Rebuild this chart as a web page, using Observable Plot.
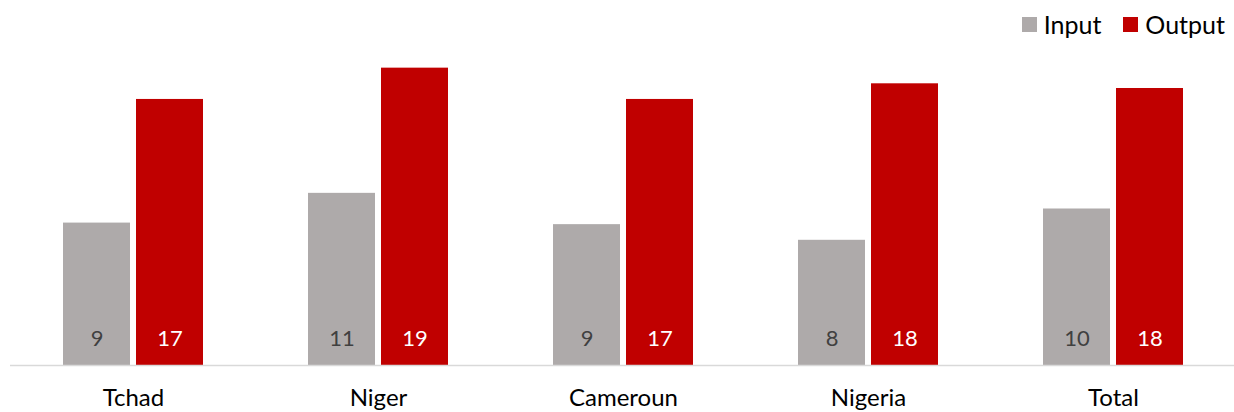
<!DOCTYPE html>
<html>
<head>
<meta charset="utf-8">
<script src="https://cdn.jsdelivr.net/npm/d3@7"></script>
<script src="https://cdn.jsdelivr.net/npm/@observablehq/plot@0.6"></script>
<style>
  html, body { margin: 0; padding: 0; background: #fff; overflow: hidden; }
  #chart { width: 1234px; font-family: Lato, "Open Sans", sans-serif; }
  #legend { height: 48px; display: flex; justify-content: flex-end; align-items: center; padding-right: 9px; box-sizing: border-box; font-size: 25px; color: #000; }
  .item { display: flex; align-items: center; margin-left: 22px; }
  .sw { width: 15px; height: 15px; margin-right: 7px; }
  svg { display: block; }
</style>
</head>
<body>
<div id="chart">
  <div id="legend"></div>
</div>
<script>
const categories = ["Tchad", "Niger", "Cameroun", "Nigeria", "Total"];
const inputValues = [9.1, 11, 9, 8, 10];
const outputValues = [17, 19, 17, 18, 17.7];
const series = ["Input", "Output"];
const seriesColors = ["#AEAAAA", "#C00000"];
const labelColors = ["#404040", "#FFFFFF"];

const rows = [];
categories.forEach((c, i) => {
  rows.push({category: c, series: "Input", value: inputValues[i]});
  rows.push({category: c, series: "Output", value: outputValues[i]});
});
const inputRows = rows.filter(d => d.series === "Input");
const outputRows = rows.filter(d => d.series === "Output");
const fmt = d3.format(".0f");

// legend
const legend = document.getElementById("legend");
series.forEach((s, i) => {
  const item = document.createElement("div");
  item.className = "item";
  const sw = document.createElement("span");
  sw.className = "sw";
  sw.style.background = seriesColors[i];
  const t = document.createElement("span");
  t.textContent = s;
  item.appendChild(sw);
  item.appendChild(t);
  legend.appendChild(item);
});

const half = 73;
const plot = Plot.plot({
  width: 1234,
  height: 364,
  marginLeft: 10,
  marginRight: -2,
  marginTop: 4,
  marginBottom: 47,
  style: {fontFamily: "Lato, 'Open Sans', sans-serif", background: "#fff", overflow: "visible"},
  x: {domain: categories, paddingInner: 0.4286, paddingOuter: 0.216},
  y: {domain: [0, 20], axis: null},
  color: {domain: series, range: seriesColors},
  marks: [
    Plot.barY(inputRows, {x: "category", y: "value", fill: "series", insetRight: half}),
    Plot.barY(outputRows, {x: "category", y: "value", fill: "series", insetLeft: half}),
    Plot.ruleY([0], {stroke: "#D9D9D9", strokeWidth: 1.5}),
    Plot.text(inputRows, {x: "category", y: () => 0, text: d => fmt(d.value), dx: -36.5, dy: -27, fill: labelColors[0], fontSize: 22}),
    Plot.text(outputRows, {x: "category", y: () => 0, text: d => fmt(d.value), dx: 36.5, dy: -27, fill: labelColors[1], fontSize: 22}),
    Plot.axisX({tickSize: 0, tickPadding: 23, fontSize: 24, label: null, fill: "#000"})
  ]
});
document.getElementById("chart").appendChild(plot);
</script>
</body>
</html>
